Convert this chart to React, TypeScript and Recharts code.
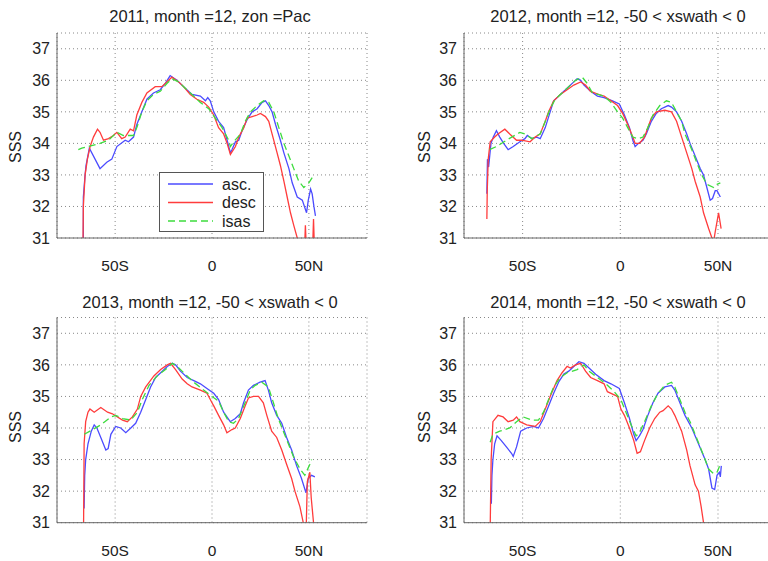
import { LineChart, Line, XAxis, YAxis, CartesianGrid, Legend } from 'recharts'

// latitude (deg, S negative) and SSS values

// 2011, zon = Pac
const p1AscLat = [-66.4, -66.4, -65.5, -65.0, -63.3, -57.8, -54.3, -51.7, -49.1, -44.8, -43.1, -40.5, -38.8, -36.2, -33.6, -30.2, -26.7, -24.1, -21.6, -18.1, -14.7, -10.3, -6.0, -3.4, -2.2, -0.9, 0.9, 3.4, 6.0, 7.8, 9.5, 10.3, 12.1, 13.8, 15.5, 18.1, 20.7, 23.3, 25.9, 27.6, 29.3, 31.0, 32.8, 35.3, 37.1, 39.7, 41.4, 44.0, 46.6, 48.8, 49.7, 50.9, 51.7, 52.6, 53.4]
const p1Asc = [30.8, 32.3, 33.0, 33.3, 33.85, 33.2, 33.4, 33.5, 33.9, 34.1, 34.05, 34.2, 34.6, 35.0, 35.4, 35.6, 35.7, 35.9, 36.15, 36.0, 35.8, 35.55, 35.5, 35.35, 35.45, 35.35, 35.0, 34.7, 34.5, 34.1, 33.7, 33.8, 34.05, 34.1, 34.4, 34.75, 35.0, 35.1, 35.3, 35.35, 35.2, 35.0, 34.6, 34.1, 33.7, 33.2, 32.75, 32.3, 32.2, 31.8, 32.2, 32.55, 32.4, 32.0, 31.7]
const p1DescLat = [-66.6, -66.4, -65.5, -64.3, -62.9, -61.2, -59.1, -57.8, -56.0, -53.4, -50.9, -49.1, -46.6, -44.8, -42.2, -40.5, -38.8, -36.2, -33.6, -29.3, -25.9, -23.3, -20.7, -17.2, -14.7, -11.2, -7.8, -4.3, -1.7, 0.9, 3.4, 6.0, 7.8, 9.5, 12.1, 13.8, 16.4, 18.1, 20.7, 23.3, 25.0, 27.6, 29.3, 31.0, 33.6, 35.3, 37.1, 38.8, 40.5, 42.2, 44.0, 45.0, 47.8, 48.2, 48.6, 52.0, 52.4, 52.8]
const p1Desc = [30.8, 32.0, 33.0, 33.5, 33.9, 34.2, 34.45, 34.35, 34.1, 34.15, 34.25, 34.35, 34.15, 34.2, 34.45, 34.4, 34.9, 35.3, 35.6, 35.8, 35.8, 35.95, 36.1, 35.95, 35.8, 35.55, 35.4, 35.3, 35.15, 34.9, 34.5, 34.3, 34.0, 33.65, 33.9, 34.2, 34.5, 34.8, 34.85, 34.9, 34.95, 34.85, 34.7, 34.3, 33.7, 33.3, 32.8, 32.3, 31.8, 31.4, 31.0, 30.7, 30.7, 31.4, 30.8, 30.8, 31.6, 30.8]
const p1IsasLat = [-69.0, -67.2, -63.8, -57.8, -53.4, -49.1, -45.7, -40.5, -38.8, -36.2, -33.6, -30.2, -26.7, -23.3, -20.7, -17.2, -13.8, -9.5, -6.0, -1.7, 1.7, 5.2, 8.6, 9.5, 11.2, 14.7, 17.2, 19.8, 23.3, 26.7, 29.3, 31.9, 34.5, 37.1, 39.7, 42.2, 44.8, 47.4, 50.0, 52.6]
const p1Isas = [33.8, 33.85, 33.9, 34.0, 34.1, 34.35, 34.25, 34.25, 34.5, 35.0, 35.35, 35.55, 35.65, 35.9, 36.05, 35.95, 35.75, 35.5, 35.3, 35.1, 34.8, 34.5, 34.1, 33.9, 34.05, 34.3, 34.7, 35.0, 35.2, 35.35, 35.3, 35.0, 34.5, 34.0, 33.6, 33.2, 32.8, 32.6, 32.75, 33.0]

// 2012
const p2AscLat = [-68.3, -68.0, -67.4, -66.2, -65.0, -63.4, -61.7, -59.7, -57.4, -54.8, -51.4, -48.8, -47.6, -45.3, -42.8, -41.0, -38.4, -35.9, -34.1, -30.7, -27.2, -23.8, -22.1, -20.3, -18.6, -15.2, -11.7, -8.3, -4.0, -0.5, 2.1, 4.7, 6.4, 7.6, 9.3, 11.6, 13.3, 15.9, 18.4, 21.0, 24.5, 26.2, 28.8, 31.4, 34.0, 35.7, 38.3, 40.9, 42.6, 44.3, 46.0, 47.2, 48.6, 49.5, 51.2]
const p2Asc = [32.4, 33.5, 33.25, 34.0, 34.2, 34.4, 34.2, 34.0, 33.8, 33.9, 34.05, 34.15, 34.25, 34.15, 34.2, 34.15, 34.5, 35.0, 35.35, 35.55, 35.75, 35.95, 36.05, 36.0, 35.85, 35.65, 35.5, 35.45, 35.35, 35.25, 34.9, 34.5, 34.1, 33.9, 34.0, 34.1, 34.3, 34.7, 34.95, 35.1, 35.2, 35.15, 35.0, 34.7, 34.3, 34.0, 33.6, 33.2, 33.0, 32.6, 32.2, 32.25, 32.5, 32.5, 32.3]
const p2DescLat = [-68.3, -68.1, -67.6, -66.6, -64.3, -62.6, -59.1, -56.6, -53.1, -50.5, -46.2, -43.6, -41.0, -38.4, -36.7, -34.1, -30.7, -27.2, -23.8, -20.3, -17.8, -15.2, -10.9, -8.3, -4.8, -1.4, 1.2, 3.8, 6.4, 7.6, 9.8, 12.4, 14.1, 15.9, 18.4, 22.8, 26.2, 28.8, 31.4, 34.0, 36.6, 38.3, 40.9, 42.6, 45.2, 46.9, 47.8, 48.6, 50.3, 51.6]
const p2Desc = [31.6, 32.5, 33.5, 34.05, 34.2, 34.3, 34.45, 34.3, 34.1, 34.1, 34.05, 34.2, 34.3, 34.7, 35.0, 35.35, 35.55, 35.7, 35.85, 35.95, 35.85, 35.65, 35.55, 35.5, 35.35, 35.2, 34.95, 34.6, 34.2, 34.0, 34.0, 34.2, 34.5, 34.8, 35.0, 35.05, 35.0, 34.7, 34.2, 33.7, 33.2, 32.8, 32.3, 31.8, 31.3, 31.0, 30.9, 31.2, 31.8, 31.3]
const p2IsasLat = [-66.9, -63.4, -58.3, -51.4, -48.8, -45.3, -41.0, -38.4, -35.9, -33.3, -29.8, -26.4, -22.9, -19.5, -16.9, -14.3, -8.3, -4.8, -1.4, 1.2, 3.8, 6.4, 9.0, 11.6, 14.1, 16.7, 20.2, 23.6, 26.2, 28.8, 31.4, 33.1, 36.6, 39.1, 41.7, 44.3, 47.8, 49.5, 51.2]
const p2Isas = [33.8, 33.9, 34.1, 34.35, 34.3, 34.15, 34.3, 34.7, 35.1, 35.4, 35.6, 35.8, 36.0, 36.1, 35.9, 35.6, 35.5, 35.3, 35.0, 34.8, 34.5, 34.2, 34.15, 34.2, 34.5, 34.9, 35.2, 35.35, 35.3, 35.0, 34.7, 34.3, 33.8, 33.4, 33.0, 32.7, 32.6, 32.7, 32.75]

// 2013
const p3AscLat = [-66.0, -65.7, -65.2, -64.0, -62.3, -60.8, -59.4, -57.4, -54.8, -53.6, -52.2, -49.7, -47.1, -44.5, -41.9, -39.4, -36.8, -34.2, -31.7, -29.1, -26.5, -23.1, -20.5, -18.8, -16.3, -12.8, -9.4, -6.0, -2.6, 0.9, 3.4, 6.0, 9.4, 12.0, 14.6, 16.3, 18.8, 21.4, 24.8, 27.4, 29.1, 30.8, 33.4, 36.0, 38.5, 41.1, 43.7, 46.2, 48.5, 49.7, 51.4, 53.1]
const p3Asc = [31.45, 32.5, 33.0, 33.5, 33.9, 34.1, 34.0, 33.7, 33.3, 33.35, 33.8, 34.05, 34.0, 33.85, 34.0, 34.15, 34.5, 34.9, 35.3, 35.6, 35.75, 35.95, 36.05, 36.0, 35.8, 35.6, 35.5, 35.4, 35.25, 35.1, 34.9, 34.5, 34.2, 34.3, 34.45, 34.8, 35.2, 35.35, 35.45, 35.5, 35.2, 34.8, 34.4, 34.15, 33.7, 33.3, 32.8, 32.4, 31.95, 32.4, 32.5, 32.45]
const p3DescLat = [-66.3, -66.0, -65.2, -64.0, -63.0, -60.8, -57.4, -53.9, -51.4, -48.8, -46.2, -43.7, -41.1, -38.5, -36.8, -34.2, -30.0, -26.5, -23.1, -21.4, -18.8, -15.4, -12.8, -10.3, -6.0, -2.6, 0.0, 0.9, 3.4, 6.0, 7.7, 10.3, 12.0, 14.6, 17.1, 18.8, 21.4, 24.0, 26.5, 28.3, 30.8, 33.4, 36.0, 38.5, 41.1, 42.8, 45.4, 47.1, 47.8, 48.6, 49.2, 50.5, 51.2, 52.4, 53.0]
const p3Desc = [30.8, 33.5, 34.2, 34.5, 34.6, 34.5, 34.65, 34.5, 34.45, 34.35, 34.25, 34.2, 34.35, 34.6, 35.0, 35.3, 35.65, 35.85, 36.0, 36.05, 35.85, 35.55, 35.4, 35.3, 35.2, 35.1, 34.8, 34.7, 34.4, 34.1, 33.85, 33.95, 34.0, 34.3, 34.7, 34.95, 35.0, 35.0, 34.8, 34.4, 33.9, 33.7, 33.3, 32.85, 32.4, 32.0, 31.5, 31.0, 30.7, 30.8, 32.3, 32.6, 31.8, 31.0, 30.7]
const p3IsasLat = [-65.9, -61.6, -57.4, -52.2, -49.7, -46.2, -41.9, -38.5, -36.0, -32.5, -28.3, -24.0, -20.5, -18.0, -13.7, -9.4, -4.3, 0.0, 3.4, 6.0, 8.6, 11.1, 13.7, 17.1, 19.7, 22.3, 25.7, 29.1, 31.7, 34.2, 36.8, 39.4, 42.0, 45.4, 47.9, 50.5, 51.4]
const p3Isas = [33.8, 33.95, 34.1, 34.35, 34.4, 34.3, 34.25, 34.5, 34.9, 35.35, 35.65, 35.85, 36.05, 35.95, 35.7, 35.45, 35.2, 35.0, 34.85, 34.5, 34.2, 34.15, 34.3, 34.8, 35.2, 35.35, 35.45, 35.3, 34.8, 34.3, 33.9, 33.5, 33.1, 32.7, 32.5, 32.85, 33.0]

// 2014
const p4AscLat = [-66.0, -65.7, -65.2, -64.3, -63.1, -60.9, -58.3, -55.7, -54.8, -53.1, -51.0, -47.9, -44.5, -41.9, -39.3, -36.7, -34.1, -31.6, -29.0, -26.4, -23.8, -21.2, -18.6, -16.0, -12.6, -8.3, -4.8, -0.5, 2.1, 4.7, 6.9, 8.1, 9.8, 11.6, 14.1, 16.7, 19.3, 22.8, 26.2, 27.9, 30.5, 33.1, 36.6, 40.0, 43.4, 45.2, 46.9, 48.3, 49.5, 50.7, 51.2, 51.7]
const p4Asc = [31.6, 32.5, 33.0, 33.5, 33.75, 33.6, 33.4, 33.2, 33.1, 33.4, 33.9, 34.0, 34.05, 34.0, 34.3, 34.7, 35.1, 35.45, 35.7, 35.8, 35.95, 36.1, 36.05, 35.9, 35.7, 35.5, 35.4, 35.25, 34.8, 34.3, 33.8, 33.6, 33.75, 33.95, 34.4, 34.8, 35.1, 35.3, 35.35, 35.2, 34.8, 34.4, 34.0, 33.5, 33.0, 32.7, 32.1, 32.05, 32.5, 32.6, 32.45, 32.8]
const p4DescLat = [-66.6, -66.1, -65.2, -62.6, -60.0, -57.4, -54.8, -53.1, -51.4, -47.9, -43.6, -41.0, -38.4, -35.9, -32.4, -29.8, -27.2, -25.5, -22.9, -20.3, -17.8, -15.2, -11.7, -8.3, -6.6, -3.1, -1.4, 0.3, 2.1, 4.7, 6.9, 8.6, 10.3, 12.4, 15.0, 17.6, 20.2, 21.9, 24.5, 26.2, 27.9, 31.4, 34.0, 35.7, 38.3, 40.0, 41.4, 42.6, 43.2]
const p4Desc = [30.8, 33.0, 34.2, 34.4, 34.35, 34.2, 34.25, 34.35, 34.2, 34.1, 34.05, 34.2, 34.6, 35.0, 35.5, 35.75, 35.95, 35.9, 36.0, 36.05, 35.8, 35.6, 35.5, 35.4, 35.15, 35.05, 35.0, 34.6, 34.4, 34.0, 33.6, 33.2, 33.25, 33.6, 34.0, 34.3, 34.5, 34.55, 34.7, 34.6, 34.4, 33.9, 33.3, 32.8, 32.2, 32.0, 31.5, 31.0, 30.7]
const p4IsasLat = [-66.6, -65.2, -61.7, -56.6, -53.1, -49.7, -45.3, -41.9, -39.3, -36.7, -34.1, -30.7, -27.2, -22.1, -18.6, -16.0, -11.7, -7.4, -3.1, 0.3, 2.9, 5.5, 8.1, 9.8, 12.4, 15.9, 19.3, 22.8, 26.2, 27.9, 30.5, 33.1, 35.7, 38.3, 40.9, 43.4, 45.2, 47.8, 49.5, 51.2]
const p4Isas = [33.55, 33.8, 33.9, 34.0, 34.2, 34.35, 34.25, 34.25, 34.5, 34.9, 35.3, 35.6, 35.75, 35.85, 36.0, 35.8, 35.6, 35.4, 35.15, 34.9, 34.5, 34.1, 33.75, 33.85, 34.2, 34.7, 35.1, 35.35, 35.45, 35.3, 34.9, 34.5, 34.2, 33.8, 33.4, 33.0, 32.7, 32.55, 32.6, 32.85]

const titles = [
  '2011, month =12, zon =Pac',
  '2012, month =12, -50 < xswath < 0',
  '2013, month =12, -50 < xswath < 0',
  '2014, month =12, -50 < xswath < 0',
]
const xTicks = [-50, 0, 50]
const yTicks = [31, 32, 33, 34, 35, 36, 37]
const seriesNames = ['asc.', 'desc', 'isas']

const BLUE = '#4b4bff'
const RED = '#ff3c3c'
const GREEN = '#3edc3e'
const FONT = '"Liberation Sans", Arial, sans-serif'

const zip = (lat: number[], sss: number[]) => lat.map((x, i) => ({ lat: x, sss: sss[i] }))
const latLabel = (v: number) => (v < 0 ? `${-v}S` : v > 0 ? `${v}N` : '0')

function LegendBox() {
  const rows = [
    { name: seriesNames[0], color: BLUE, dash: undefined },
    { name: seriesNames[1], color: RED, dash: undefined },
    { name: seriesNames[2], color: GREEN, dash: '7 4' },
  ]
  return (
    <svg width={105} height={60} style={{ display: 'block' }}>
      <rect x={0.5} y={0.5} width={104} height={59} fill="#fff" stroke="#555" />
      {rows.map((r, i) => (
        <g key={r.name}>
          <line x1={9} x2={54} y1={12 + i * 18.5} y2={12 + i * 18.5}
            stroke={r.color} strokeWidth={1.3} strokeDasharray={r.dash} />
          <text x={63} y={12 + i * 18.5} dy="0.35em" fontSize={16} fill="#222" fontFamily={FONT}>
            {r.name}
          </text>
        </g>
      ))}
    </svg>
  )
}

interface PanelProps {
  idx: number
  left: number; top: number; width: number
  margin: { top: number; right: number; bottom: number; left: number }
  asc: { lat: number; sss: number }[]
  desc: { lat: number; sss: number }[]
  isas: { lat: number; sss: number }[]
  legend?: boolean
}

function Panel({ idx, left, top, width, margin, asc, desc, isas, legend }: PanelProps) {
  return (
    <div style={{ position: 'absolute', left, top }}>
      <LineChart width={width} height={280} margin={margin}>
        <CartesianGrid stroke="#888" strokeDasharray="1 3" />
        <XAxis dataKey="lat" type="number" domain={[-80, 80]} allowDataOverflow
          ticks={xTicks} tickFormatter={latLabel} height={30}
          tickLine={false} tickSize={0} tickMargin={22}
          axisLine={{ stroke: '#666' }}
          tick={{ fontSize: 15.5, fill: '#222', fontFamily: FONT }} />
        <YAxis type="number" domain={[31, 37.5]} allowDataOverflow
          ticks={yTicks} width={40}
          tickLine={false} tickSize={0} tickMargin={7}
          axisLine={{ stroke: '#666' }}
          tick={{ fontSize: 16, fill: '#222', fontFamily: FONT }} />
        <Line data={asc} dataKey="sss" name={seriesNames[0]} stroke={BLUE} strokeWidth={1.3}
          dot={false} type="linear" isAnimationActive={false} />
        <Line data={desc} dataKey="sss" name={seriesNames[1]} stroke={RED} strokeWidth={1.3}
          dot={false} type="linear" isAnimationActive={false} />
        <Line data={isas} dataKey="sss" name={seriesNames[2]} stroke={GREEN} strokeWidth={1.3}
          strokeDasharray="7 4" dot={false} type="linear" isAnimationActive={false} />
        {legend && (
          <Legend layout="horizontal" verticalAlign="middle" align="center"
            wrapperStyle={{ left: 159, top: 172, width: 105, height: 60 }}
            content={() => <LegendBox />} />
        )}
      </LineChart>
      <div style={{
        position: 'absolute', left: 0, width: idx % 2 === 0 ? 420 : 468, top: idx < 2 ? 7 : 13,
        textAlign: 'center', fontFamily: FONT, fontSize: 16.5, color: '#222', whiteSpace: 'nowrap',
      }}>
        {titles[idx]}
      </div>
      <div style={{
        position: 'absolute', left: idx % 2 === 0 ? 16 : 41, top: 147,
        transform: 'translate(-50%, -50%) rotate(-90deg)',
        fontFamily: FONT, fontSize: 16, color: '#222',
      }}>
        SSS
      </div>
    </div>
  )
}

export default function App() {
  const leftM = { right: 17, left: 17 }
  const rightM = { right: 7.4, left: 40 }
  return (
    <div style={{
      position: 'absolute', left: 0, top: 0, width: 768, height: 561,
      overflow: 'hidden', background: '#fff',
    }}>
      <Panel idx={0} left={0} top={0} width={384}
        margin={{ top: 33, bottom: 12, ...leftM }}
        asc={zip(p1AscLat, p1Asc)} desc={zip(p1DescLat, p1Desc)} isas={zip(p1IsasLat, p1Isas)} legend />
      <Panel idx={1} left={384} top={0} width={400}
        margin={{ top: 33, bottom: 12, ...rightM }}
        asc={zip(p2AscLat, p2Asc)} desc={zip(p2DescLat, p2Desc)} isas={zip(p2IsasLat, p2Isas)} />
      <Panel idx={2} left={0} top={280} width={384}
        margin={{ top: 37.5, bottom: 7.3, ...leftM }}
        asc={zip(p3AscLat, p3Asc)} desc={zip(p3DescLat, p3Desc)} isas={zip(p3IsasLat, p3Isas)} />
      <Panel idx={3} left={384} top={280} width={400}
        margin={{ top: 37.5, bottom: 7.3, ...rightM }}
        asc={zip(p4AscLat, p4Asc)} desc={zip(p4DescLat, p4Desc)} isas={zip(p4IsasLat, p4Isas)} />
    </div>
  )
}
